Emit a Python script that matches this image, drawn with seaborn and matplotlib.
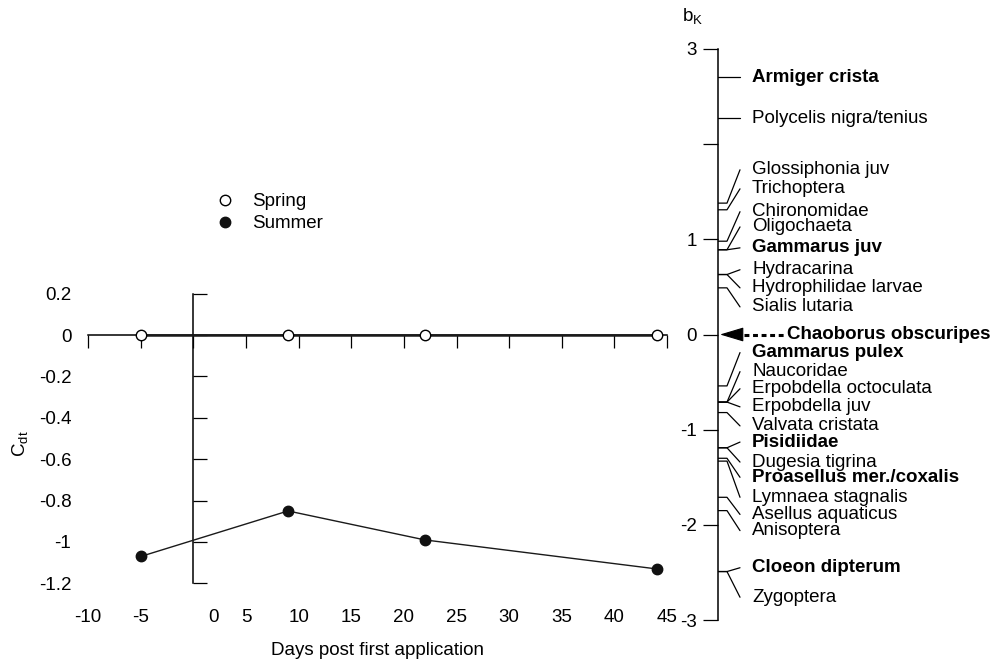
import numpy as np
import pandas as pd
import matplotlib
matplotlib.use("Agg")
import matplotlib.pyplot as plt
from matplotlib.lines import Line2D
import seaborn as sns

# ---------------- data ----------------
days = [-5, 9, 22, 44]
spring_cdt = [0.0, 0.0, 0.0, 0.0]
summer_cdt = [-1.07, -0.85, -0.99, -1.13]

x_ticks = [-10, -5, 0, 5, 10, 15, 20, 25, 30, 35, 40, 45]
x_tick_labels = ["-10", "-5", "0", "5", "10", "15", "20", "25", "30", "35", "40", "45"]
y_ticks = [0.2, 0, -0.2, -0.4, -0.6, -0.8, -1, -1.2]
y_tick_labels = ["0.2", "0", "-0.2", "-0.4", "-0.6", "-0.8", "-1", "-1.2"]

taxa = ["Armiger crista", "Polycelis nigra/tenius", "Glossiphonia juv", "Trichoptera",
        "Chironomidae", "Oligochaeta", "Gammarus juv", "Hydracarina",
        "Hydrophilidae larvae", "Sialis lutaria", "Chaoborus obscuripes",
        "Gammarus pulex", "Naucoridae", "Erpobdella octoculata", "Erpobdella juv",
        "Valvata cristata", "Pisidiidae", "Dugesia tigrina", "Proasellus mer./coxalis",
        "Lymnaea stagnalis", "Asellus aquaticus", "Anisoptera", "Cloeon dipterum",
        "Zygoptera"]
bk = [2.70, 2.27, 1.38, 1.31,
      0.98, 0.89, 0.89, 0.63,
      0.63, 0.49, 0.0,
      -0.54, -0.71, -0.71, -0.71,
      -0.82, -1.19, -1.19, -1.30,
      -1.33, -1.71, -1.85, -2.49,
      -2.49]
# label placement (b_K units) for the annotation text
label_bk = [2.70, 2.27, 1.73, 1.53,
            1.29, 1.13, 0.91, 0.68,
            0.49, 0.29, 0.0,
            -0.19, -0.39, -0.57, -0.76,
            -0.96, -1.13, -1.34, -1.50,
            -1.71, -1.89, -2.06, -2.45,
            -2.76]
bold_taxa = ["Armiger crista", "Gammarus juv", "Chaoborus obscuripes", "Gammarus pulex",
             "Pisidiidae", "Proasellus mer./coxalis", "Cloeon dipterum"]
arrow_taxon = "Chaoborus obscuripes"
bk_ticks = [3, 2, 1, 0, -1, -2, -3]
bk_tick_labels = ["3", "", "1", "0", "-1", "-2", "-3"]

# ---------------- style ----------------
sns.set_theme(style="white", rc={
    "text.color": "black", "axes.labelcolor": "black",
    "xtick.color": "black", "ytick.color": "black", "axes.edgecolor": "black",
})
plt.rcParams["font.family"] = ["Liberation Sans", "DejaVu Sans"]
plt.rcParams["mathtext.fontset"] = "custom"
plt.rcParams["mathtext.rm"] = "Liberation Sans"
plt.rcParams["mathtext.it"] = "Liberation Sans:italic"
FS = 13.5

W, H = 994, 665
fig = plt.figure(figsize=(W / 100, H / 100), dpi=100)


def px_axes(l, t, r, b):
    return fig.add_axes([l / W, 1 - b / H, (r - l) / W, (b - t) / H])


# ---------------- left panel: PRC ----------------
ax = px_axes(77.5, 283.25, 682.9, 593.75)
ax.set_xlim(-11, 46.5)
ax.set_ylim(-1.25, 0.25)
for s in ax.spines.values():
    s.set_visible(False)

df = pd.DataFrame({
    "day": days + days,
    "cdt": spring_cdt + summer_cdt,
    "season": ["Spring"] * len(days) + ["Summer"] * len(days),
})
sns.lineplot(data=df[df.season == "Spring"], x="day", y="cdt", ax=ax, color="#1a1a1a",
             linewidth=1.8, marker="o", markersize=7.5, markerfacecolor="white",
             markeredgecolor="black", markeredgewidth=1.0, legend=False, zorder=4)
sns.lineplot(data=df[df.season == "Summer"], x="day", y="cdt", ax=ax, color="#1a1a1a",
             linewidth=1.0, marker="o", markersize=7.5, markerfacecolor="#111111",
             markeredgecolor="#111111", markeredgewidth=1.0, legend=False, zorder=4)

ax.set_xticks(x_ticks)
ax.set_xticklabels([("" if t == "0" else t) for t in x_tick_labels])
ax.set_yticks(y_ticks)
ax.set_yticklabels(y_tick_labels)
ax.tick_params(axis="x", length=0, pad=11, labelsize=FS)
ax.tick_params(axis="y", length=0, pad=4.5, labelsize=FS)
ax.annotate("0", xy=(0, 0), xycoords=("data", "axes fraction"), xytext=(14.5, -11),
            textcoords="offset points", ha="center", va="top", fontsize=FS)

sy = ax.secondary_yaxis(0, transform=ax.transData)
sy.set_alignment("left")
sy.set_yticks(y_ticks)
sy.tick_params(axis="y", left=True, direction="in", length=10, width=0.9,
               labelleft=False, labelright=False)
sy.spines["left"].set_bounds(-1.2, 0.2)
sy.spines["left"].set_linewidth(1.1)

sx = ax.secondary_xaxis(0, transform=ax.transData)
sx.set_alignment("bottom")
sx.set_xticks(x_ticks)
sx.tick_params(axis="x", bottom=True, direction="out", length=9, width=0.9,
               labelbottom=False, labeltop=False)
sx.spines["bottom"].set_bounds(-10, 45)
sx.spines["bottom"].set_linewidth(1.1)

ax.set_xlabel("Days post first application", fontsize=FS)
ax.xaxis.set_label_coords(0.496, -0.156)
ax.set_ylabel(r"C$_\mathrm{dt}$", fontsize=FS)
ax.yaxis.set_label_coords(-0.078, 0.482)

handles = [
    Line2D([], [], ls="none", marker="o", ms=7.5, mfc="white", mec="black", mew=1.0),
    Line2D([], [], ls="none", marker="o", ms=7.5, mfc="#111111", mec="#111111", mew=1.0),
]
ax.legend(handles, ["Spring", "Summer"], loc="upper left",
          bbox_to_anchor=(215.6 / W, 1 - 193 / H), bbox_transform=fig.transFigure,
          frameon=False, handlelength=1.0, handletextpad=0.95, labelspacing=0.27,
          borderpad=0, borderaxespad=0, fontsize=FS)

# ---------------- right panel: species weights ----------------
axr = px_axes(718, 10, 990, 640)
axr.set_xlim(0, 272)
axr.set_ylim(-(640 - 334.5) / 95.2, (334.5 - 10) / 95.2)
for name, s in axr.spines.items():
    s.set_visible(name == "left")
axr.spines["left"].set_bounds(-3, 3)
axr.spines["left"].set_linewidth(1.1)
axr.set_yticks(bk_ticks)
axr.set_yticklabels(bk_tick_labels)
axr.tick_params(axis="y", left=True, direction="out", length=11, width=0.9, pad=4,
                labelsize=FS)
axr.tick_params(axis="x", bottom=False, labelbottom=False)
axr.patch.set_alpha(0)

for name, b, lb in zip(taxa, bk, label_bk):
    weight = "bold" if name in bold_taxa else "normal"
    if name == arrow_taxon:
        axr.annotate("", xy=(2, b), xytext=(24, b),
                     arrowprops=dict(arrowstyle="-|>,head_length=1.0,head_width=0.3",
                                     mutation_scale=15, lw=0.8, color="black",
                                     shrinkA=0, shrinkB=0))
        axr.plot([26, 66], [b, b], color="black", lw=2.2, ls=(0, (1.6, 1.2)),
                 solid_capstyle="butt", dash_capstyle="butt")
        axr.text(69, lb, name, ha="left", va="center", fontsize=FS, fontweight=weight)
        continue
    axr.plot([0, 9, 22], [b, b, lb], color="black", lw=0.9)
    axr.text(34, lb, name, ha="left", va="center", fontsize=FS, fontweight=weight)

axr.text(-36, 3.29, r"b$_\mathrm{K}$", ha="left", va="baseline", fontsize=FS)

fig.savefig("out.png", dpi=100)
